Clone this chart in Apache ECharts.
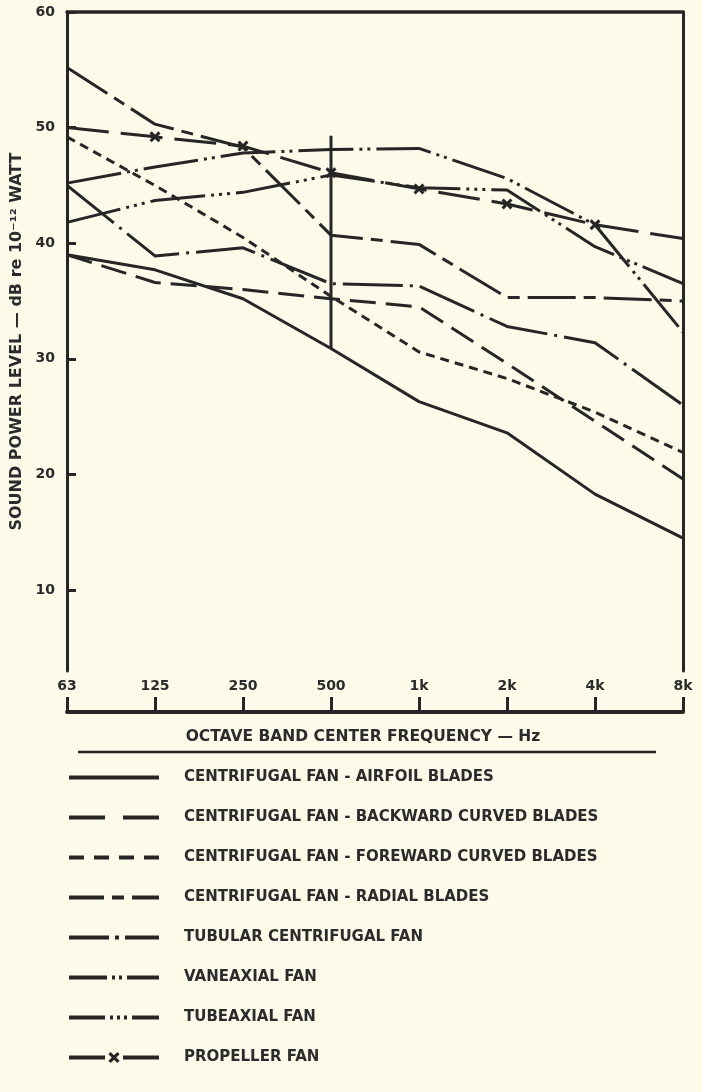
<!DOCTYPE html>
<html><head><meta charset="utf-8">
<script src="https://cdn.jsdelivr.net/npm/echarts@6/dist/echarts.min.js"></script>
<style>html,body{margin:0;padding:0;background:#fcfae9;} #c{width:702px;height:1092px;}</style>
</head><body><div id="c"></div>
<script>
// ---- data (dB re 10^-12 W) ----
const categories = ['63', '125', '250', '500', '1k', '2k', '4k', '8k'];
const yTickValues = [10, 20, 30, 40, 50, 60];
const airfoil = [39.0, 37.7, 35.2, 30.9, 26.3, 23.6, 18.3, 14.5];
const backwardCurved = [39.0, 36.6, 36.0, 35.2, 34.5, 29.6, 24.6, 19.6];
const forwardCurved = [49.2, 45.0, 40.5, 35.4, 30.6, 28.3, 25.4, 21.9];
const radialBlades = [55.2, 50.3, 48.3, 40.7, 39.9, 35.3, 35.3, 35.0];
const tubularCentrifugal = [45.0, 38.9, 39.6, 36.5, 36.3, 32.8, 31.4, 26.0];
const vaneaxial = [45.2, 46.6, 47.8, 48.1, 48.2, 45.6, 41.6, 32.3];
const tubeaxial = [41.8, 43.7, 44.4, 45.9, 44.8, 44.6, 39.7, 36.5];
const propeller = [50.0, 49.2, 48.4, 46.1, 44.7, 43.4, 41.6, 40.4];
const marker500 = [49.3, 30.9];
const seriesNames = [
  'CENTRIFUGAL FAN - AIRFOIL BLADES',
  'CENTRIFUGAL FAN - BACKWARD CURVED BLADES',
  'CENTRIFUGAL FAN - FOREWARD CURVED BLADES',
  'CENTRIFUGAL FAN - RADIAL BLADES',
  'TUBULAR CENTRIFUGAL FAN',
  'VANEAXIAL FAN',
  'TUBEAXIAL FAN',
  'PROPELLER FAN'
];
const seriesValues = [airfoil, backwardCurved, forwardCurved, radialBlades, tubularCentrifugal, vaneaxial, tubeaxial, propeller];

// ---- styles ----
const INK = '#262626';
const TXT = '#2b2b2b';
const FONT = "'DejaVu Sans', sans-serif";
const plotDash = [
  'solid',
  [26, 10],
  [9, 6],
  [48, 8, 12, 8],
  [60, 7, 3, 7],
  [55, 6, 3, 5, 3, 6],
  [55, 6, 3, 5, 3, 5, 3, 6],
  [42, 12]
];
const legendDash = [
  'solid',
  [36, 18],
  [15, 10],
  [35, 8, 12, 8],
  [40, 6, 4, 6],
  [38, 5, 3, 4, 3, 5],
  [36, 5, 3, 4, 3, 4, 3, 5],
  [36, 18]
];
const X_PATH = 'path://M0,2 L2,0 L5,3 L8,0 L10,2 L7,5 L10,8 L8,10 L5,7 L2,10 L0,8 L3,5 Z';

const series = seriesNames.map((name, i) => {
  const isProp = i === 7;
  return {
    name: name,
    type: 'line',
    xAxisIndex: 0, yAxisIndex: 0,
    data: seriesValues[i].map((v, j) => (isProp && (j === 0 || j === categories.length - 1)) ? { value: v, symbol: 'none' } : v),
    symbol: isProp ? X_PATH : 'none',
    symbolSize: 11,
    showSymbol: isProp,
    itemStyle: { color: INK },
    lineStyle: { color: INK, width: 3, type: plotDash[i], cap: 'butt', join: 'round' },
    silent: true,
    z: 3
  };
});
series.push({
  name: 'ref500',
  type: 'line',
  xAxisIndex: 0, yAxisIndex: 0,
  data: marker500.map(v => ['500', v]),
  symbol: 'none',
  lineStyle: { color: INK, width: 3 },
  silent: true,
  z: 4
});
// empty series to host the bracket axis
series.push({ type: 'line', xAxisIndex: 2, yAxisIndex: 2, data: [], symbol: 'none' });

const labelFont = { fontFamily: FONT, fontWeight: 'bold', fontSize: 14, color: TXT };

const option = {
  backgroundColor: '#fcfae9',
  animation: false,
  grid: [
    { left: 67, top: 12, width: 616, height: 659 },
    { left: 67, top: 697, width: 616, height: 15 }
  ],
  xAxis: [
    { gridIndex: 0, type: 'category', data: categories, boundaryGap: false, position: 'bottom',
      axisLine: { show: false }, axisTick: { show: false },
      axisLabel: Object.assign({ margin: 8, interval: 0 }, labelFont), splitLine: { show: false } },
    { gridIndex: 0, type: 'category', data: categories, boundaryGap: false, position: 'top',
      axisLine: { show: true, lineStyle: { color: INK, width: 3.5 } }, axisTick: { show: false },
      axisLabel: { show: false }, splitLine: { show: false } },
    { gridIndex: 1, type: 'category', data: categories, boundaryGap: false, position: 'bottom',
      axisLine: { show: true, lineStyle: { color: INK, width: 4 } },
      axisTick: { show: true, inside: true, length: 15, interval: 0, lineStyle: { color: INK, width: 3 } },
      axisLabel: { show: false },
      name: 'OCTAVE BAND CENTER FREQUENCY — Hz', nameLocation: 'middle', nameGap: 17,
      nameTextStyle: { fontFamily: FONT, fontWeight: 'bold', fontSize: 15.5, color: TXT, padding: [0, 24, 0, 0] } }
  ],
  yAxis: [
    { gridIndex: 0, type: 'value', min: 3, max: 60, position: 'left',
      axisLine: { show: true, lineStyle: { color: INK, width: 3 } },
      axisTick: { show: true, inside: true, length: 9, customValues: yTickValues, lineStyle: { color: INK, width: 3 } },
      axisLabel: Object.assign({ margin: 12, customValues: yTickValues }, labelFont),
      splitLine: { show: false },
      name: 'SOUND POWER LEVEL — dB re 10⁻¹² WATT', nameLocation: 'middle', nameGap: 42,
      nameTextStyle: { fontFamily: FONT, fontWeight: 'bold', fontSize: 16, color: TXT } },
    { gridIndex: 0, type: 'value', min: 3, max: 60, position: 'right',
      axisLine: { show: true, lineStyle: { color: INK, width: 3 } },
      axisTick: { show: false }, axisLabel: { show: false }, splitLine: { show: false } },
    { gridIndex: 1, type: 'value', min: 0, max: 1, show: false }
  ],
  legend: {
    orient: 'vertical', left: 62, top: 765,
    itemWidth: 90, itemHeight: 14, itemGap: 25,
    selectedMode: false,
    textStyle: { fontFamily: FONT, fontWeight: 'bold', fontSize: 15, color: TXT, padding: [0, 0, 0, 20] },
    data: seriesNames.map((n, i) => ({
      name: n,
      lineStyle: { color: INK, width: 4, type: legendDash[i], cap: 'butt' },
      itemStyle: i === 7 ? { color: INK, opacity: 1 } : { opacity: 0 }
    }))
  },
  graphic: [
    { type: 'line', shape: { x1: 78, y1: 752, x2: 656, y2: 752 }, style: { stroke: INK, lineWidth: 2.5 }, silent: true }
  ],
  series: series
};

const chart = echarts.init(document.getElementById('c'), null, { renderer: 'canvas' });
chart.setOption(option);
</script>
</body></html>
